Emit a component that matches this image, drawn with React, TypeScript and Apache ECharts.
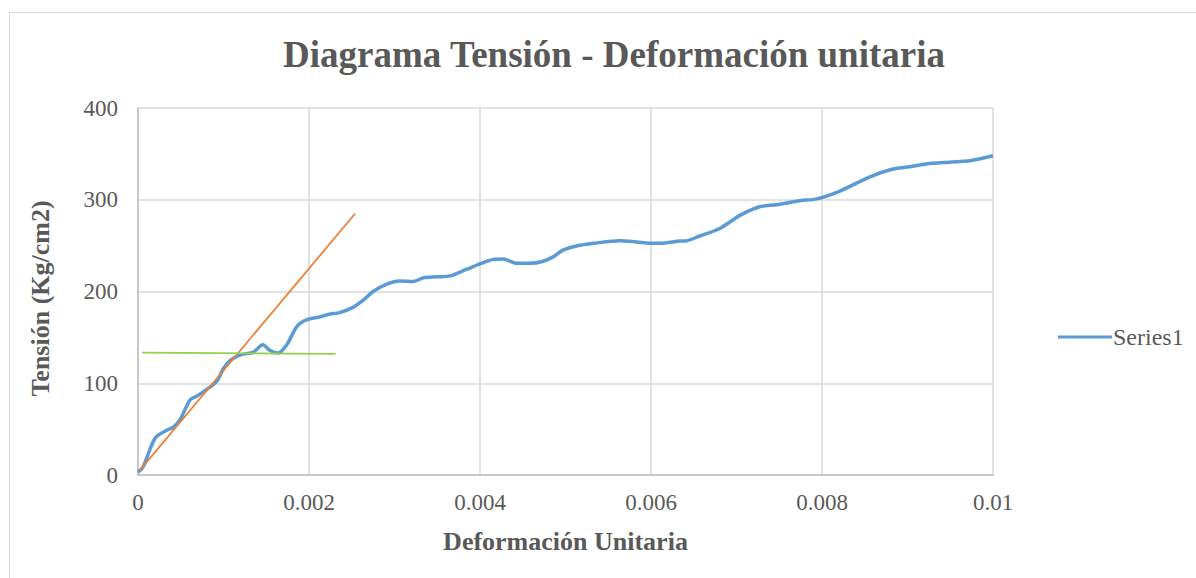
import React, { useEffect, useRef } from "react";
import * as echarts from "echarts";

const strain: number[] = [0, 0.00006, 0.0002, 0.00034, 0.00041, 0.00049, 0.00061, 0.00069, 0.0008, 0.00092, 0.001, 0.00108, 0.0012, 0.00135, 0.00146, 0.00154, 0.00164, 0.00174, 0.00186, 0.00197, 0.00213, 0.00225, 0.00236, 0.00252, 0.00264, 0.00275, 0.00291, 0.00306, 0.00322, 0.00334, 0.00349, 0.00365, 0.00384, 0.004, 0.00416, 0.00427, 0.00443, 0.00458, 0.00474, 0.00486, 0.00497, 0.00513, 0.00533, 0.00564, 0.00583, 0.00599, 0.0061, 0.00634, 0.00642, 0.00657, 0.00681, 0.00704, 0.00727, 0.00747, 0.00774, 0.00794, 0.00821, 0.00856, 0.00883, 0.00903, 0.00922, 0.00949, 0.00973, 0.01];
const stress: number[] = [3, 9, 40, 49, 52, 60, 82, 86, 93, 102, 116, 125, 131, 134, 142, 136, 133, 142, 162, 169, 172.5, 175.5, 177, 183, 191, 200, 208, 211.4, 211, 215, 216, 217, 224, 230, 235, 235.4, 230.7, 230.7, 233, 238, 245, 249.6, 252.5, 255.4, 254, 252.5, 252.5, 255, 255.4, 260.5, 269, 283, 292.4, 294.6, 299, 301, 309.5, 325, 333.5, 336, 339, 341, 342.6, 348];

const elasticX: number[] = [0.00002, 0.00254];
const elasticY: number[] = [5, 285];
const yieldX: number[] = [0.00005, 0.00231];
const yieldY: number[] = [133.3, 131.9];

const xTicks = { min: 0, max: 0.01, interval: 0.002 };
const yTicks = { min: 0, max: 400, interval: 100 };

const serif = "Liberation Serif";

export default function App() {
  const ref = useRef<HTMLDivElement>(null);
  useEffect(() => {
    document.body.style.margin = "0";
    const chart = echarts.init(ref.current!, null, { renderer: "svg" });
    chart.setOption({
      animation: false,
      backgroundColor: "#ffffff",
      title: {
        text: "Diagrama Tensión - Deformación unitaria",
        left: 609,
        textAlign: "center",
        top: 31,
        textStyle: { fontFamily: serif, fontSize: 37, fontWeight: "bold", color: "#595959" },
      },
      graphic: [
        {
          type: "rect",
          shape: { x: 9.5, y: 12.5, width: 1400, height: 800 },
          style: { fill: "none", stroke: "#d9d9d9", lineWidth: 1 },
          silent: true,
          z: -1,
        },
      ],
      legend: {
        data: ["Series1"],
        left: 1053,
        top: 320,
        orient: "vertical",
        itemWidth: 54,
        itemHeight: 3,
        itemGap: 4,
        icon: "rect",
        textStyle: { fontFamily: serif, fontSize: 24, color: "#595959", padding: [0, 0, 0, -4] },
      },
      grid: { left: 138, right: 203, top: 108, bottom: 103, containLabel: false },
      xAxis: {
        type: "value",
        min: xTicks.min,
        max: xTicks.max,
        interval: xTicks.interval,
        name: "Deformación Unitaria",
        nameLocation: "middle",
        nameGap: 53,
        nameTextStyle: { fontFamily: serif, fontSize: 26, fontWeight: "bold", color: "#595959" },
        axisLine: { show: true, lineStyle: { color: "#bfbfbf", width: 1.5 } },
        axisTick: { show: false },
        axisLabel: {
          fontFamily: serif,
          fontSize: 23,
          color: "#595959",
          margin: 16,
          formatter: (v: number) => String(parseFloat(v.toFixed(4))),
        },
        splitLine: { show: true, lineStyle: { color: "#d9d9d9", width: 1.5 } },
      },
      yAxis: {
        type: "value",
        min: yTicks.min,
        max: yTicks.max,
        interval: yTicks.interval,
        name: "Tensión (Kg/cm2)",
        nameLocation: "middle",
        nameGap: 85,
        nameRotate: 90,
        nameTextStyle: {
          fontFamily: serif,
          fontSize: 26,
          fontWeight: "bold",
          color: "#595959",
          padding: [0, 14, 0, 0],
        },
        axisLine: { show: true, lineStyle: { color: "#bfbfbf", width: 1.5 } },
        axisTick: { show: false },
        axisLabel: { fontFamily: serif, fontSize: 23, color: "#595959", margin: 20 },
        splitLine: { show: true, lineStyle: { color: "#d9d9d9", width: 1.5 } },
      },
      series: [
        {
          name: "Series1",
          type: "line",
          data: strain.map((x, i) => [x, stress[i]]),
          smooth: 0.3,
          showSymbol: false,
          lineStyle: { color: "#5b9bd5", width: 3.5 },
          itemStyle: { color: "#5b9bd5" },
          z: 3,
        },
        {
          name: "elastic",
          type: "line",
          data: elasticX.map((x, i) => [x, elasticY[i]]),
          showSymbol: false,
          lineStyle: { color: "#ed7d31", width: 1.75 },
          z: 4,
        },
        {
          name: "yield",
          type: "line",
          data: yieldX.map((x, i) => [x, yieldY[i]]),
          showSymbol: false,
          lineStyle: { color: "#92d050", width: 1.75 },
          z: 4,
        },
      ],
    });
    return () => chart.dispose();
  }, []);
  return <div ref={ref} style={{ width: 1196, height: 578 }} />;
}
